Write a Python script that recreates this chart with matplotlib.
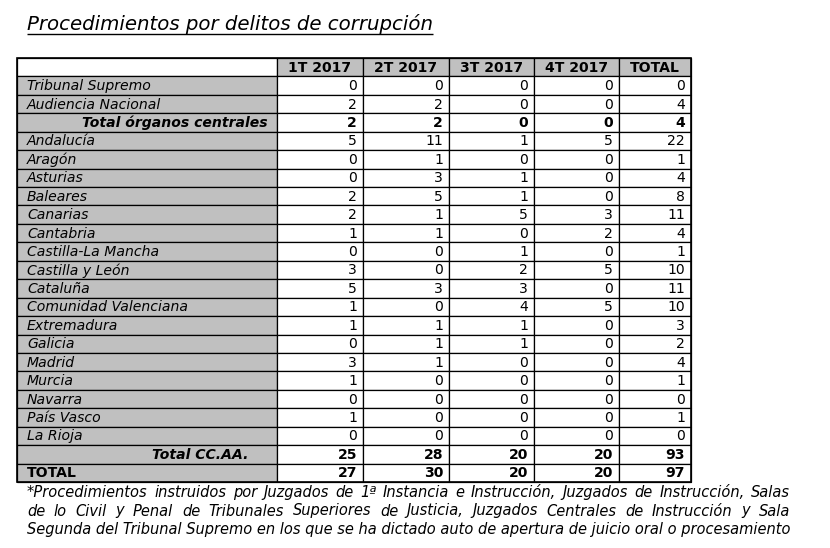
import matplotlib
matplotlib.use("Agg")
import matplotlib.pyplot as plt
from matplotlib.patches import Rectangle

title = "Procedimientos por delitos de corrupción"
headers = ["1T 2017", "2T 2017", "3T 2017", "4T 2017", "TOTAL"]
rows = ["Tribunal Supremo", "Audiencia Nacional", "Total órganos centrales",
        "Andalucía", "Aragón", "Asturias", "Baleares", "Canarias", "Cantabria",
        "Castilla-La Mancha", "Castilla y León", "Cataluña", "Comunidad Valenciana",
        "Extremadura", "Galicia", "Madrid", "Murcia", "Navarra", "País Vasco",
        "La Rioja", "Total CC.AA.", "TOTAL"]
q1 = [0, 2, 2, 5, 0, 0, 2, 2, 1, 0, 3, 5, 1, 1, 0, 3, 1, 0, 1, 0, 25, 27]
q2 = [0, 2, 2, 11, 1, 3, 5, 1, 1, 0, 0, 3, 0, 1, 1, 1, 0, 0, 0, 0, 28, 30]
q3 = [0, 0, 0, 1, 0, 1, 1, 5, 0, 1, 2, 3, 4, 1, 1, 0, 0, 0, 0, 0, 20, 20]
q4 = [0, 0, 0, 5, 0, 0, 0, 3, 2, 0, 5, 0, 5, 0, 0, 0, 0, 0, 0, 0, 20, 20]
tot = [0, 4, 4, 22, 1, 4, 8, 11, 4, 1, 10, 11, 10, 3, 2, 4, 1, 0, 1, 0, 93, 97]
footnote = [
    "*Procedimientos instruidos por Juzgados de 1ª Instancia e Instrucción, Juzgados de Instrucción, Salas",
    "de lo Civil y Penal de Tribunales Superiores de Justicia, Juzgados Centrales de Instrucción y Sala",
    "Segunda del Tribunal Supremo en los que se ha dictado auto de apertura de juicio oral o procesamiento",
]

# layout / style
W, H = 830, 548
GRAY = "#c0c0c0"
FS = 10.1
FS_NOTE = 10.55
col_edges = [17, 277, 363, 449, 534, 619, 691]
top, bottom = 58, 482
n_rows = len(rows) + 1
rh = (bottom - top) / n_rows
bold_rows = {"Total órganos centrales", "Total CC.AA.", "TOTAL"}
label_style = {
    "Total órganos centrales": dict(ha="right", x=268, style="italic"),
    "Total CC.AA.": dict(ha="right", x=248, style="italic"),
    "TOTAL": dict(ha="left", x=27, style="normal"),
}

plt.rcParams["font.family"] = ["DejaVu Sans"]
fig = plt.figure(figsize=(W / 100, H / 100), dpi=100)
ax = fig.add_axes([0, 0, 1, 1])
ax.set_xlim(0, W)
ax.set_ylim(H, 0)
ax.axis("off")

# title
t = ax.text(27, 30, title, fontsize=14.2, style="italic", ha="left",
            va="baseline", color="black")
fig.canvas.draw()
r = fig.canvas.get_renderer()
bb = t.get_window_extent(r)
ax.plot([bb.x0, bb.x1], [33.5, 33.5], color="black", lw=1.0, solid_capstyle="butt")

# header row
y0 = top
for j in range(len(col_edges) - 1):
    fc = "white" if j == 0 else GRAY
    ax.add_patch(Rectangle((col_edges[j], y0), col_edges[j + 1] - col_edges[j], rh,
                           facecolor=fc, edgecolor="black", lw=0.9))
for j, h in enumerate(headers):
    xc = (col_edges[j + 1] + col_edges[j + 2]) / 2
    ax.text(xc, y0 + rh / 2 + 0.5, h, fontsize=FS, fontweight="bold",
            ha="center", va="center")

data = [q1, q2, q3, q4, tot]
for i, name in enumerate(rows):
    y = top + (i + 1) * rh
    for j in range(len(col_edges) - 1):
        fc = GRAY if j == 0 else "white"
        ax.add_patch(Rectangle((col_edges[j], y), col_edges[j + 1] - col_edges[j], rh,
                               facecolor=fc, edgecolor="black", lw=0.9))
    bold = name in bold_rows
    st = label_style.get(name, dict(ha="left", x=27, style="italic"))
    ax.text(st["x"], y + rh / 2 + 0.5, name, fontsize=FS,
            fontweight="bold" if bold else "normal", style=st["style"],
            ha=st["ha"], va="center")
    for j, series in enumerate(data):
        ax.text(col_edges[j + 2] - 6, y + rh / 2 + 0.5, str(series[i]), fontsize=FS,
                fontweight="bold" if bold else "normal", ha="right", va="center")

# outer border
ax.add_patch(Rectangle((col_edges[0], top), col_edges[-1] - col_edges[0], bottom - top,
                       facecolor="none", edgecolor="black", lw=1.2))

# footnote (first two lines justified)
fx0, fx1 = 27, 790
fy = [497, 515.5, 534]
for k, line in enumerate(footnote):
    if k == len(footnote) - 1:
        ax.text(fx0, fy[k], line, fontsize=FS_NOTE, style="italic", ha="left", va="baseline")
        continue
    words = line.split(" ")
    objs = [ax.text(0, fy[k], w, fontsize=FS_NOTE, style="italic", ha="left", va="baseline")
            for w in words]
    fig.canvas.draw()
    widths = []
    for o in objs:
        e = o.get_window_extent(r)
        widths.append(e.x1 - e.x0)
    gap = (fx1 - fx0 - sum(widths)) / (len(words) - 1)
    x = fx0
    for o, wd in zip(objs, widths):
        o.set_x(x)
        x += wd + gap

fig.savefig("out.png", dpi=100)
